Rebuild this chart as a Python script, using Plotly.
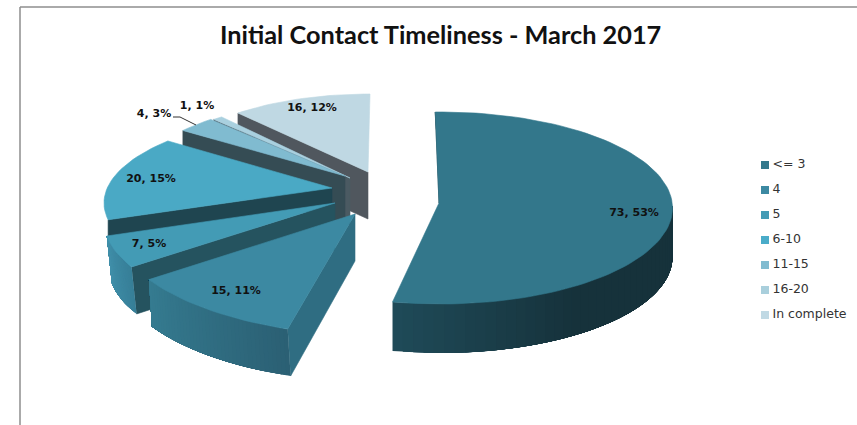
import math
import plotly.graph_objects as go

# ---- data ----
categories = ["<= 3", "4", "5", "6-10", "11-15", "16-20", "In complete"]
values = [73, 15, 7, 20, 4, 1, 16]
percents = [53, 11, 5, 15, 3, 1, 12]
title_text = "Initial Contact Timeliness - March 2017"

# ---- styling and projection of the tilted, exploded pie ----
top_colors = ["#33778B", "#3C89A2", "#439BB5", "#4AA9C5", "#80BBD0", "#A9D0DF", "#BFD8E3"]
legend_colors = ["#33788C", "#3C89A2", "#439BB5", "#4AACC9", "#80BBD0", "#A9CFDC", "#C0D9E4"]
radial_colors = ["#16323B", "#2F6D82", "#25535F", "#1F4550", "#354C54", "#4B5A62", "#50575E"]
rim_colors = [("#1F4A58", "#16323B"), ("#357B90", "#2B6074"), ("#4190AA", "#377F98")]
apex = [(439, 203), (355, 214), (335, 203), (332, 188), (345, 176), (350, 178), (368, 172)]
centre = [(440.5, 208), (380, 223), (356, 221), (348, 203), (349, 184.5), (352, 184.5), (370, 167)]
radius_x = [232, 267, 252, 244, 215, 215, 196]
radius_y = [96, 113, 101, 92, 85, 85, 73]
angle_off = [-1.3, 7, 10, 8, 5, 5, 0]
depth = [49, 47, 47, 20, 47, 47, 47]
wall_dx = [0, 3, 5, 0, 0, 0, 0]
label_pos = [(634, 213), (236, 291), (149, 244), (151, 179), (154, 114), (197, 106), (312, 108)]
legend_x, legend_y0, legend_dy = 765, 165, 25
SEG = 40


def rim(i, deg):
    t = math.radians(deg + angle_off[i])
    cx, cy = centre[i]
    return cx + radius_x[i] * math.sin(t), cy - radius_y[i] * math.cos(t)


def mix(c1, c2, t):
    a = [int(c1[k:k + 2], 16) for k in (1, 3, 5)]
    b = [int(c2[k:k + 2], 16) for k in (1, 3, 5)]
    return "#%02X%02X%02X" % tuple(round(p + (q - p) * t) for p, q in zip(a, b))


def poly(fig, pts, color, lw=0.6):
    fig.add_trace(go.Scatter(
        x=[p[0] for p in pts] + [pts[0][0]], y=[p[1] for p in pts] + [pts[0][1]],
        mode="lines", fill="toself", fillcolor=color,
        line=dict(color=color, width=lw), hoverinfo="skip", showlegend=False))


total = sum(values)
starts = [sum(values[:i]) / total * 360 for i in range(len(values))]
ends = [sum(values[:i + 1]) / total * 360 for i in range(len(values))]

fig = go.Figure()

# back to front, big slice last
for i in [6, 5, 4, 3, 2, 1, 0]:
    s, e = starts[i], ends[i]
    d = depth[i]
    dx = wall_dx[i]
    ax, ay = apex[i]
    if i > 0:  # the radial wall that faces the viewer
        x0, y0 = rim(i, s)
        poly(fig, [(ax, ay), (x0, y0), (x0 + dx, y0 + d), (ax, ay + d)], radial_colors[i])
    # outer wall, shaded in steps; each step overlaps the next so no seams show
    if i in (0, 1, 2):
        wall_s, wall_e = (90, e) if i == 0 else (s, e)
        for k in range(SEG):
            t0 = wall_s + (wall_e - wall_s) * k / SEG
            t1 = wall_e
            if i == 0:
                t0, t1 = wall_s, wall_e - (wall_e - wall_s) * k / SEG
            n = 12
            front = [rim(i, t0 + (t1 - t0) * j / n) for j in range(n + 1)]
            frac = k / (SEG - 1)
            if i == 0:
                col = mix(rim_colors[0][0], rim_colors[0][1], min(1, frac / 0.45))
            else:
                col = mix(rim_colors[i][1], rim_colors[i][0], frac)
            poly(fig, front + [(p[0] + dx, p[1] + d) for p in reversed(front)], col, lw=0)
    if i == 0:  # thin inner wall seen past the first edge
        xs, ys = rim(0, 0)
        poly(fig, [(xs, ys), (ax + 2, ay - 7), (ax, ay)], radial_colors[0])
    # top face
    n = max(4, int((e - s) / 2))
    pts = [(ax, ay)] + [rim(i, s + (e - s) * k / n) for k in range(n + 1)]
    poly(fig, pts, top_colors[i])

# leader line for the 4, 3% label
fig.add_trace(go.Scatter(x=[173, 180, 196], y=[117, 117, 125], mode="lines",
                         line=dict(color="#333333", width=1), hoverinfo="skip", showlegend=False))

# data labels
fig.add_trace(go.Scatter(
    x=[p[0] for p in label_pos], y=[p[1] for p in label_pos], mode="text",
    text=[f"{v}, {p}%" for v, p in zip(values, percents)],
    textfont=dict(family="DejaVu Sans", size=11, color="#111111", weight="bold"),
    hoverinfo="skip", showlegend=False))

# legend
legend_rows = [legend_y0 + legend_dy * i for i in range(len(categories))]
fig.add_trace(go.Scatter(
    x=[legend_x] * len(categories), y=legend_rows,
    mode="markers", marker=dict(symbol="square", size=8, color=legend_colors),
    hoverinfo="skip", showlegend=False))
fig.add_trace(go.Scatter(
    x=[legend_x + 7.5] * len(categories), y=legend_rows,
    mode="text", text=categories, textposition="middle right",
    textfont=dict(family="DejaVu Sans", size=12.5, color="#333333"),
    hoverinfo="skip", showlegend=False))

fig.update_layout(
    width=857, height=425, margin=dict(l=0, r=0, t=0, b=0),
    paper_bgcolor="white", plot_bgcolor="white", showlegend=False,
    xaxis=dict(range=[0, 857], visible=False, fixedrange=True),
    yaxis=dict(range=[425, 0], visible=False, fixedrange=True),
    shapes=[dict(type="line", x0=20, x1=20, y0=7, y1=425, line=dict(color="#8E8E8E", width=1.5)),
            dict(type="line", x0=20, x1=857, y0=7, y1=7, line=dict(color="#8E8E8E", width=1.5))],
    annotations=[dict(text=f"<b>{title_text}</b>", x=440, y=34, xref="x", yref="y", showarrow=False,
                      font=dict(family="Lato", size=25.3, color="#111111"))],
)
fig.write_html("out.html", config={"displayModeBar": False},
               post_script="document.body.style.margin='0';document.documentElement.style.overflow='hidden';")
